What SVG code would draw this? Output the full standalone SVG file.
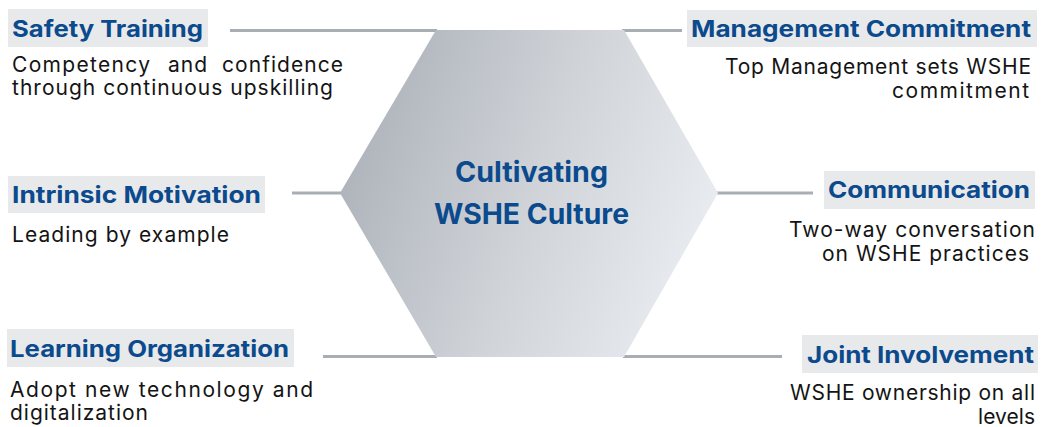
<svg xmlns="http://www.w3.org/2000/svg" width="1041" height="427" viewBox="0 0 1041 427">
<defs>
<linearGradient id="hexGrad" x1="0" y1="0.35" x2="1" y2="0.65">
<stop offset="0" stop-color="#adb2ba"/>
<stop offset="0.5" stop-color="#cfd3d8"/>
<stop offset="1" stop-color="#eaedf1"/>
</linearGradient>
<style>
.conn{stroke:#a9aeb5;stroke-width:3;fill:none}
.box{fill:#e8e9eb}
.title{font-family:Inter,"Liberation Sans",sans-serif;font-weight:700;font-size:23px;fill:#0b4a8d}
.desc{font-family:Inter,"Liberation Sans",sans-serif;font-size:21px;fill:#141414}
.center{font-family:Inter,"Liberation Sans",sans-serif;font-weight:700;font-size:28px;fill:#0b4a8d;text-anchor:middle}
.end{text-anchor:end}
</style>
</defs>
<rect width="1041" height="427" fill="#ffffff"/>
<g id="connectors">
<line class="conn" x1="230" y1="30.5" x2="437" y2="30.5"/>
<line class="conn" x1="622" y1="30.5" x2="682" y2="30.5"/>
<line class="conn" x1="292" y1="193" x2="341" y2="193"/>
<line class="conn" x1="717" y1="193" x2="813" y2="193"/>
<line class="conn" x1="323" y1="356.5" x2="437" y2="356.5"/>
<line class="conn" x1="623" y1="356.5" x2="782" y2="356.5"/>
</g>
<g id="center">
<polygon points="436,30 624,30 718,193 624,357 436,357 340,193" fill="url(#hexGrad)"/>
<text class="center" x="531.5" y="182" textLength="153" lengthAdjust="spacingAndGlyphs">Cultivating</text>
<text class="center" x="531.5" y="224" textLength="195" lengthAdjust="spacingAndGlyphs">WSHE Culture</text>
</g>
<g id="safety-training">
<rect class="box" x="8" y="9" width="200" height="38"/>
<text class="title" x="12" y="37" textLength="191" lengthAdjust="spacingAndGlyphs">Safety Training</text>
<text class="desc" x="12" y="72"><tspan x="12" textLength="138" lengthAdjust="spacing">Competency</tspan><tspan x="168" textLength="39" lengthAdjust="spacing">and</tspan><tspan x="222" textLength="121" lengthAdjust="spacing">confidence</tspan></text>
<text class="desc" x="12" y="95" textLength="321" lengthAdjust="spacing">through continuous upskilling</text>
</g>
<g id="management-commitment">
<rect class="box" x="687" y="10" width="350" height="37"/>
<text class="title" x="691" y="37" textLength="340" lengthAdjust="spacingAndGlyphs">Management Commitment</text>
<text class="desc end" x="1031" y="74" textLength="306" lengthAdjust="spacing">Top Management sets WSHE</text>
<text class="desc end" x="1029" y="98" textLength="137" lengthAdjust="spacing">commitment</text>
</g>
<g id="intrinsic-motivation">
<rect class="box" x="8" y="176" width="257" height="37"/>
<text class="title" x="12" y="203" textLength="249" lengthAdjust="spacingAndGlyphs">Intrinsic Motivation</text>
<text class="desc" x="12" y="242" textLength="217" lengthAdjust="spacing">Leading by example</text>
</g>
<g id="communication">
<rect class="box" x="824" y="171" width="211" height="38"/>
<text class="title" x="828" y="198" textLength="202" lengthAdjust="spacingAndGlyphs">Communication</text>
<text class="desc end" x="1035" y="237" textLength="246" lengthAdjust="spacing">Two-way conversation</text>
<text class="desc end" x="1029" y="261" textLength="207" lengthAdjust="spacing">on WSHE practices</text>
</g>
<g id="learning-organization">
<rect class="box" x="7" y="329" width="287" height="38"/>
<text class="title" x="10" y="357" textLength="279" lengthAdjust="spacingAndGlyphs">Learning Organization</text>
<text class="desc" x="10" y="397" textLength="303" lengthAdjust="spacing">Adopt new technology and</text>
<text class="desc" x="10" y="420" textLength="138" lengthAdjust="spacing">digitalization</text>
</g>
<g id="joint-involvement">
<rect class="box" x="802" y="335" width="236" height="38"/>
<text class="title" x="807" y="363" textLength="227" lengthAdjust="spacingAndGlyphs">Joint Involvement</text>
<text class="desc end" x="1035" y="400" textLength="245" lengthAdjust="spacing">WSHE ownership on all</text>
<text class="desc end" x="1035" y="424" textLength="57" lengthAdjust="spacing">levels</text>
</g>
</svg>
